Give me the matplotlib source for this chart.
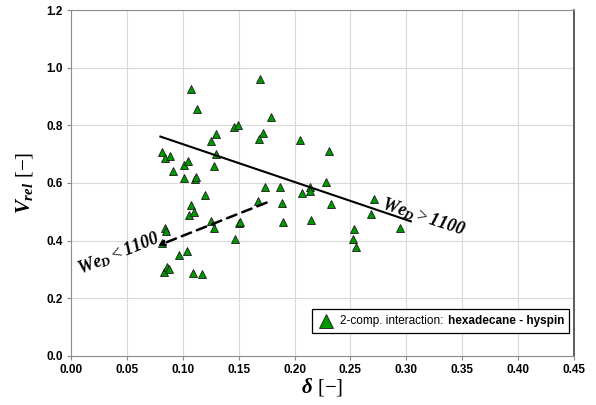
import numpy as np
import matplotlib
matplotlib.use("Agg")
import matplotlib.pyplot as plt
from matplotlib.lines import Line2D
from matplotlib.offsetbox import (AnchoredOffsetbox, DrawingArea, HPacker,
                                  TextArea)

plt.rcParams['font.family'] = ['Liberation Sans', 'DejaVu Sans']
plt.rcParams['mathtext.fontset'] = 'custom'
plt.rcParams['mathtext.rm'] = 'Liberation Serif'
plt.rcParams['mathtext.it'] = 'Liberation Serif:italic:bold'
plt.rcParams['mathtext.bf'] = 'Liberation Serif:bold'
# bold italic digits for the Weber labels
plt.rcParams['mathtext.sf'] = 'Liberation Serif:italic:bold'

# measured droplet data: gap ratio vs relative velocity
delta = [0.169, 0.107, 0.113, 0.179, 0.146, 0.149, 0.130, 0.125, 0.172, 0.168,
         0.205, 0.130, 0.128, 0.081, 0.084, 0.089, 0.101, 0.105, 0.0915, 0.101,
         0.111, 0.112, 0.120, 0.174, 0.187, 0.207, 0.214, 0.214, 0.167, 0.189,
         0.107, 0.106, 0.110, 0.125, 0.128, 0.150, 0.151, 0.190, 0.215, 0.147,
         0.084, 0.085, 0.097, 0.104, 0.083, 0.086, 0.088, 0.109, 0.117, 0.2305,
         0.228, 0.233, 0.271, 0.268, 0.2946, 0.253, 0.2526, 0.2547, 0.081]
v_rel = [0.960, 0.925, 0.858, 0.830, 0.794, 0.802, 0.769, 0.745, 0.773, 0.754,
         0.750, 0.702, 0.660, 0.707, 0.686, 0.695, 0.664, 0.675, 0.642, 0.619,
         0.613, 0.620, 0.558, 0.587, 0.587, 0.565, 0.585, 0.572, 0.537, 0.530,
         0.524, 0.490, 0.501, 0.467, 0.443, 0.461, 0.466, 0.465, 0.470, 0.405,
         0.445, 0.434, 0.350, 0.365, 0.292, 0.310, 0.302, 0.289, 0.283, 0.711,
         0.602, 0.527, 0.543, 0.491, 0.444, 0.439, 0.406, 0.377, 0.391]

# trend lines (start, end)
high_we_x = [0.080, 0.304]
high_we_y = [0.761, 0.467]
low_we_x = [0.175, 0.078]
low_we_y = [0.532, 0.383]

green = '#009900'

fig = plt.figure(figsize=(5.96, 4.05), dpi=100)
ax = fig.add_axes([0.1191, 0.1210, 0.8440, 0.8543])

ax.grid(True, color='#d9d9d9', lw=0.8, zorder=0)
ax.plot(delta, v_rel, ls='none', marker='^', ms=6.2, mfc=green, mec='#1a1a1a',
        mew=0.6, zorder=3)

ax.plot(high_we_x, high_we_y, color='black', lw=1.5, zorder=4)
ax.annotate('', xy=(low_we_x[1], low_we_y[1]), xytext=(low_we_x[0], low_we_y[0]),
            arrowprops=dict(arrowstyle='-|>', color='black', lw=1.8,
                            ls=(0, (4, 2.5)), mutation_scale=8,
                            shrinkA=0, shrinkB=0), zorder=4)

ax.text(0.315, 0.482, r'$We_D > \mathsf{1100}$', fontsize=13, rotation=-18,
        ha='center', va='center', rotation_mode='anchor')
ax.text(0.043, 0.356, r'$We_D < \mathsf{1100}$', fontsize=13, rotation=22,
        ha='center', va='center', rotation_mode='anchor')

ax.set_xlim(0, 0.45)
ax.set_ylim(0, 1.2)
ax.set_xticks(np.arange(0, 0.451, 0.05))
ax.set_yticks(np.arange(0, 1.21, 0.2))
ax.set_xticklabels(['%.2f' % t for t in np.arange(0, 0.451, 0.05)])
ax.set_yticklabels(['%.1f' % t for t in np.arange(0, 1.21, 0.2)])
ax.tick_params(labelsize=8.5, length=3, width=0.8, color='#888888', pad=3)
for lab in ax.get_xticklabels() + ax.get_yticklabels():
    lab.set_fontweight('bold')

for side in ['left', 'bottom', 'top']:
    ax.spines[side].set_color('#8c8c8c')
ax.spines['right'].set_color('#404040')
ax.spines['right'].set_linewidth(1.2)

ax.set_xlabel(r'$\delta\ [-]$', fontsize=15, labelpad=0)
ax.set_ylabel(r'$V_{rel}\ [-]$', fontsize=15, labelpad=8)

# legend: marker + plain text + bold text in one framed row
da = DrawingArea(14, 10, 0, 0)
da.add_artist(Line2D([7], [5], marker='^', ms=9.5, mfc=green, mec='#1a1a1a',
                     mew=0.6, ls='none'))
t1 = TextArea('2-comp. interaction:', textprops=dict(fontsize=8.5))
t2 = TextArea('hexadecane - hyspin', textprops=dict(fontsize=8.5, fontweight='bold'))
row = HPacker(children=[da, t1, t2], align='center', pad=0, sep=3)
box = AnchoredOffsetbox(loc='lower right', child=row, pad=0.35, borderpad=0,
                        frameon=True, bbox_to_anchor=(0.990, 0.0665),
                        bbox_transform=ax.transAxes)
box.patch.set_edgecolor('black')
box.patch.set_linewidth(0.9)
box.patch.set_boxstyle('square', pad=0)
ax.add_artist(box)

fig.savefig('out.png', dpi=100)
